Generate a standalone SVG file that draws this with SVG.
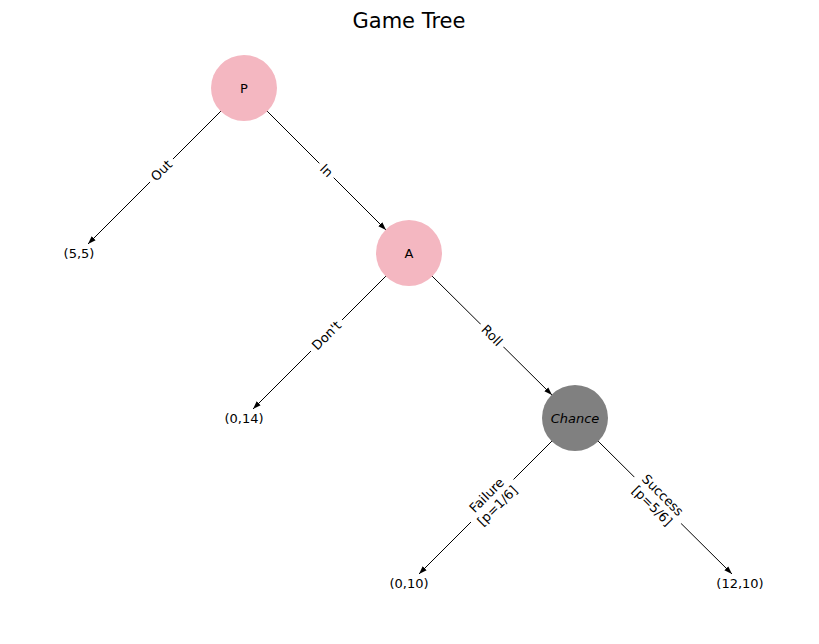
<svg xmlns="http://www.w3.org/2000/svg" width="819" height="644" viewBox="0 0 819 644">
<defs>
<marker id="ah" viewBox="0 0 10 10" refX="10" refY="5" markerWidth="8" markerHeight="8" markerUnits="userSpaceOnUse" orient="auto">
<path d="M0,1.5 L10,5 L0,8.5 z" fill="#000"/>
</marker>
<style>
text{font-family:"DejaVu Sans","Liberation Sans",sans-serif;font-size:13px;fill:#000}
.e{stroke:#000;stroke-width:1;fill:none;marker-end:url(#ah)}
.n{fill:#f4b7c1}
.lb{fill:#fff}
</style>
</defs>
<rect width="819" height="644" fill="#fff"/>
<text x="409" y="28" text-anchor="middle" style="font-size:21px">Game Tree</text>
<g id="connectors">
<line class="e" x1="221" y1="111" x2="88" y2="244"/>
<line class="e" x1="267" y1="111" x2="386" y2="230"/>
<line class="e" x1="386" y1="276" x2="253" y2="409"/>
<line class="e" x1="432" y1="276" x2="552" y2="395"/>
<line class="e" x1="552" y1="441" x2="419" y2="574"/>
<line class="e" x1="598" y1="441" x2="732" y2="574"/>
<g transform="translate(161.5,170.5) rotate(-45)"><rect class="lb" x="-16" y="-10" width="32" height="20"/><text y="4.5" text-anchor="middle">Out</text></g>
<g transform="translate(326.5,170.5) rotate(45)"><rect class="lb" x="-10" y="-10" width="20" height="20"/><text y="4.5" text-anchor="middle">In</text></g>
<g transform="translate(326.5,335.5) rotate(-45)"><rect class="lb" x="-22" y="-10" width="44" height="20"/><text y="4.5" text-anchor="middle">Don't</text></g>
<g transform="translate(492,335.5) rotate(45)"><rect class="lb" x="-16" y="-10" width="32" height="20"/><text y="4.5" text-anchor="middle">Roll</text></g>
<g transform="translate(492,500.5) rotate(-45)"><rect class="lb" x="-30" y="-18" width="60" height="36"/><text y="-3" text-anchor="middle">Failure</text><text y="12" text-anchor="middle">[p=1/6]</text></g>
<g transform="translate(657.5,500.5) rotate(45)"><rect class="lb" x="-33" y="-18" width="66" height="36"/><text y="-3" text-anchor="middle">Success</text><text y="12" text-anchor="middle">[p=5/6]</text></g>
</g>
<g id="P"><circle class="n" cx="244" cy="88" r="33"/><text x="244" y="92.5" text-anchor="middle">P</text></g>
<g id="A"><circle class="n" cx="409" cy="253" r="33"/><text x="409" y="257.5" text-anchor="middle">A</text></g>
<g id="Chance"><circle cx="575" cy="418" r="33" fill="#808080"/><text x="575" y="422.5" text-anchor="middle" font-style="italic">Chance</text></g>
<g id="leaf55"><text x="79" y="257.5" text-anchor="middle">(5,5)</text></g>
<g id="leaf014"><text x="244" y="422.5" text-anchor="middle">(0,14)</text></g>
<g id="leaf010"><text x="409" y="587.5" text-anchor="middle">(0,10)</text></g>
<g id="leaf1210"><text x="740" y="587.5" text-anchor="middle">(12,10)</text></g>
</svg>
